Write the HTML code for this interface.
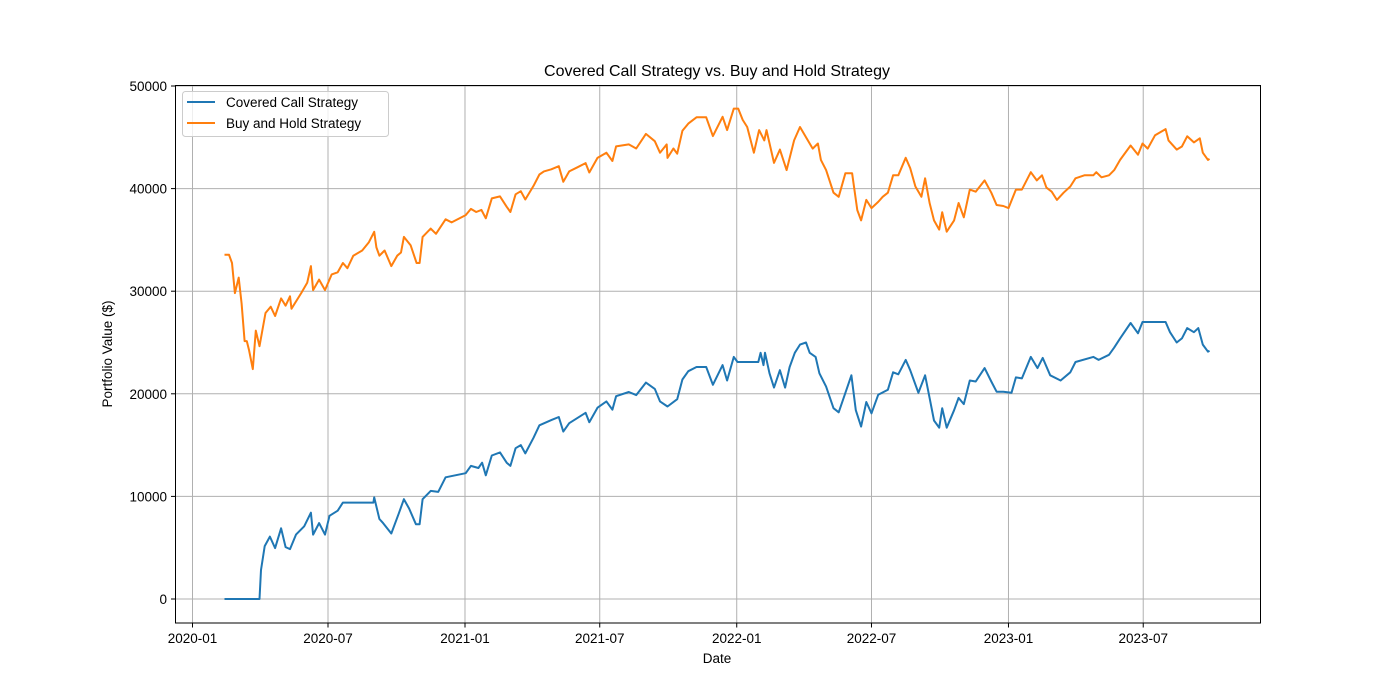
<!DOCTYPE html>
<html><head><meta charset="utf-8"><style>
html,body{margin:0;padding:0;background:#fff;}
svg{display:block;font-family:"Liberation Sans","DejaVu Sans",sans-serif;}
</style></head><body>
<svg id="chart" width="1400" height="700" xmlns="http://www.w3.org/2000/svg">
<rect width="1400" height="700" fill="#fff"/>
<g id="grid"></g>
<g id="series"></g>
<rect x="175.5" y="85.5" width="1085" height="537.5" fill="none" stroke="#000" stroke-width="1"/>
<g id="ticks"></g>
<text x="717" y="76" font-size="16" text-anchor="middle" fill="#000">Covered Call Strategy vs. Buy and Hold Strategy</text>
<text x="717" y="663" font-size="13.5" text-anchor="middle" fill="#000">Date</text>
<text x="0" y="0" font-size="13.5" text-anchor="middle" fill="#000" transform="translate(112,354) rotate(-90)">Portfolio Value ($)</text>
<g>
<rect x="182.5" y="91.5" width="206" height="45" rx="3" fill="#fff" fill-opacity="0.8" stroke="#ccc"/>
<line x1="187" y1="102" x2="215" y2="102" stroke="#1f77b4" stroke-width="2"/>
<text x="226" y="107" font-size="13.5" fill="#000">Covered Call Strategy</text>
<line x1="187" y1="123" x2="215" y2="123" stroke="#ff7f0e" stroke-width="2"/>
<text x="226" y="128" font-size="13.5" fill="#000">Buy and Hold Strategy</text>
</g>
</svg>
<script>
// days since 2020-01-01
const xTickDays = [0,182,366,547,731,912,1096,1277];
const xTickLabels = ["2020-01","2020-07","2021-01","2021-07","2022-01","2022-07","2023-01","2023-07"];
const yTicks = [0,10000,20000,30000,40000,50000];
const buyHoldDays = [43,49,53,57,62,66,70,73,76,81,85,90,98,105,111,119,125,131,133,146,154,159,162,170,178,187,195,202,208,216,228,237,244,247,251,258,267,275,280,284,293,301,305,309,320,327,340,348,367,374,381,388,394,402,413,422,427,434,441,447,458,466,472,482,492,498,506,517,528,533,544,556,564,569,586,596,609,621,628,637,638,646,651,658,666,677,690,699,
712,718,727,733,739,745,754,761,768,771,781,789,798,808,816,824,833,840,844,851,861,868,877,886,893,898,905,912,921,927,934,941,948,958,964,971,979,984,990,996,1003,1007,1013,1023,1029,1036,1044,1052,1064,1073,1080,1089,1096,1106,1114,1126,1134,1141,1147,1154,1161,1170,1179,1186,1198,1210,1214,1221,1231,1238,1246,1260,1270,1276,1283,1293,1307,1311,1322,1329,1336,1345,1353,1357,1364,1366];
const buyHoldValues = [33560,33560,32750,29810,31330,28800,25140,25140,24230,22410,26160,24640,27880,28490,27580,29300,28590,29500,28290,29810,30820,32450,30110,31130,30110,31640,31840,32750,32240,33460,33970,34780,35790,34270,33460,33970,32450,33460,33770,35290,34480,32750,32750,35290,36100,35590,37010,36710,37420,38020,37720,37920,37110,39040,39240,38230,37720,39440,39750,38940,40260,41370,41680,41880,42180,40660,41680,42080,42490,41570,42990,43500,42690,44110,44310,43910,45330,44620,43500,44310,42990,43910,43400,45630,46340,46950,46950,45120,
47000,45700,47800,47800,46700,46000,43500,45700,44700,45700,42500,43800,41800,44700,46000,45000,43900,44400,42800,41800,39600,39200,41500,41500,37900,36900,38900,38100,38700,39200,39600,41300,41300,43000,42000,40200,39200,41000,38600,36900,36000,37700,35800,36900,38600,37200,39900,39700,40800,39600,38400,38300,38100,39900,39900,41600,40800,41300,40100,39700,38900,39600,40200,41000,41300,41300,41600,41100,41300,41800,42800,44200,43300,44400,43900,45200,45800,44700,43800,44100,45100,44500,44900,43500,42800,42900];
const coveredDays = [43,90,92,97,104,111,119,125,131,139,150,159,162,170,178,184,195,202,208,212,243,244,251,256,267,277,284,291,300,305,309,320,330,340,353,367,374,384,389,394,402,413,422,427,434,441,447,458,466,482,492,498,506,528,533,544,556,564,569,586,596,609,621,628,638,651,658,666,677,690,699,
712,718,727,732,760,763,767,769,775,781,789,796,802,809,816,824,829,837,842,851,861,868,877,885,891,898,905,912,921,934,941,948,958,964,975,984,990,996,1003,1007,1013,1023,1029,1036,1044,1052,1064,1073,1080,1089,1100,1106,1114,1126,1135,1142,1152,1166,1179,1186,1210,1217,1231,1238,1246,1260,1270,1276,1307,1313,1322,1329,1336,1345,1351,1357,1364,1366];
const coveredValues = [0,0,2830,5160,6080,4960,6890,5060,4860,6280,7090,8410,6280,7400,6280,8110,8610,9400,9400,9400,9400,9900,7800,7400,6380,8310,9730,8820,7290,7290,9730,10540,10440,11860,12060,12260,12970,12770,13280,12060,13990,14290,13280,12970,14700,15000,14190,15710,16930,17440,17740,16320,17130,18150,17230,18650,19260,18450,19770,20180,19870,21090,20480,19260,18760,19470,21390,22200,22610,22610,20880,
22800,21300,23600,23100,23100,24000,22800,24000,22000,20600,22300,20600,22600,24000,24800,25000,24000,23600,22000,20700,18600,18200,20100,21800,18400,16800,19200,18100,19900,20400,22100,21900,23300,22300,20100,21800,19600,17400,16700,18600,16700,18400,19600,19000,21300,21200,22500,21200,20200,20200,20100,21600,21500,23600,22500,23500,21800,21300,22100,23100,23600,23300,23800,24500,25400,26900,25900,27000,27000,26000,25000,25400,26400,26000,26400,24800,24100,24200];

const NS = "http://www.w3.org/2000/svg";
const X0 = 192.5, XS = 0.7445;
const xScale = d => X0 + d * XS;
const yScale = v => 599 - v * 0.01026;
const grid = document.getElementById('grid');
const ticks = document.getElementById('ticks');
const series = document.getElementById('series');
function mk(tag, attrs, parent){const e=document.createElementNS(NS,tag);for(const k in attrs)e.setAttribute(k,attrs[k]);parent.appendChild(e);return e;}

xTickDays.forEach((d,i)=>{
  const x = xScale(d);
  const g = mk('line',{x1:x,x2:x,y1:85.5,y2:623,stroke:'#b0b0b0','stroke-width':1},grid);
  
  
  const t = mk('line',{x1:x,x2:x,y1:623,y2:627.5,stroke:'#000','stroke-width':1},ticks);
  
  
  const l = mk('text',{x:x,y:643,'font-size':13.5,'text-anchor':'middle',fill:'#000'},ticks);
  l.textContent = xTickLabels[i];
  
  
});
yTicks.forEach(v=>{
  const y = yScale(v);
  const g = mk('line',{x1:175.5,x2:1260.5,y1:y,y2:y,stroke:'#b0b0b0','stroke-width':1},grid);
  
  
  const t = mk('line',{x1:171,x2:175.5,y1:y,y2:y,stroke:'#000','stroke-width':1},ticks);
  
  
  const l = mk('text',{x:167,y:y+5,'font-size':13.5,'text-anchor':'end',fill:'#000'},ticks);
  l.textContent = String(v);
  
  
});
function drawLine(days, vals, color){
  const pts = days.map((d,i)=>xScale(d).toFixed(1)+','+yScale(vals[i]).toFixed(1)).join(' ');
  return mk('polyline',{points:pts,fill:'none',stroke:color,'stroke-width':2,'stroke-linejoin':'round'},series);
}
const l1 = drawLine(coveredDays, coveredValues, '#1f77b4');


const l2 = drawLine(buyHoldDays, buyHoldValues, '#ff7f0e');


</script>
</body></html>
